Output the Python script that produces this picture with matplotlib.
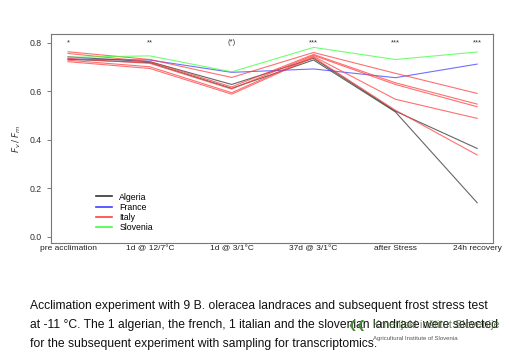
import matplotlib
matplotlib.use("Agg")
import matplotlib.pyplot as plt

plt.rcParams["font.family"] = ["Liberation Sans", "DejaVu Sans"]

# %% data
stages = ["pre acclimation", "1d @ 12/7°C", "1d @ 3/1°C", "37d @ 3/1°C", "after Stress", "24h recovery"]
signif = ["*", "**", "(*)", "***", "***", "***"]

algeria_1 = [0.742, 0.722, 0.628, 0.736, 0.518, 0.364]
algeria_2 = [0.732, 0.718, 0.612, 0.729, 0.515, 0.140]
france = [0.733, 0.729, 0.678, 0.692, 0.656, 0.712]
italy_1 = [0.763, 0.731, 0.657, 0.760, 0.674, 0.591]
italy_2 = [0.756, 0.722, 0.618, 0.752, 0.635, 0.547]
italy_3 = [0.735, 0.715, 0.609, 0.748, 0.628, 0.536]
italy_4 = [0.728, 0.701, 0.594, 0.744, 0.567, 0.488]
italy_5 = [0.722, 0.694, 0.588, 0.740, 0.522, 0.337]
slovenia = [0.740, 0.746, 0.680, 0.781, 0.731, 0.762]

groups = [
    ("Algeria", "#333333", [algeria_1, algeria_2]),
    ("France", "#4040ff", [france]),
    ("Italy", "#ff4040", [italy_1, italy_2, italy_3, italy_4, italy_5]),
    ("Slovenia", "#40ff40", [slovenia]),
]

# %% plot
fig = plt.figure(figsize=(5.09, 3.63), dpi=100)
ax = fig.add_axes([0.1002, 0.3314, 0.8678, 0.5741])
x = list(range(len(stages)))

for name, color, series in groups:
    for i, s in enumerate(series):
        ax.plot(x, s, color=color, lw=0.8, alpha=0.75,
                label=name if i == 0 else None)

for xi, lab in zip(x, signif):
    ax.text(xi, 0.8, lab, ha="center", va="center", fontsize=5.5, color="#333333")

ax.set_xlim(-0.208, 5.19)
ax.set_ylim(-0.025, 0.835)
ax.set_xticks(x)
ax.set_xticklabels(stages, fontsize=6.0, color="#222222")
ax.tick_params(axis="x", length=0, pad=2)
ax.set_yticks([0.0, 0.2, 0.4, 0.6, 0.8])
ax.set_yticklabels(["0.0", "0.2", "0.4", "0.6", "0.8"], fontsize=6.3, color="#333333")
ax.tick_params(axis="y", length=3, color="#666666", width=0.6)
for sp in ax.spines.values():
    sp.set_color("#777777")
    sp.set_linewidth(0.8)
ax.set_ylabel("$F_v\\,/\\,F_m$", fontsize=6.5, color="#333333", labelpad=5)

leg = ax.legend(loc="lower left", bbox_to_anchor=(0.085, 0.015), frameon=False,
                fontsize=6.3, handlelength=1.8, labelspacing=0.12, handletextpad=0.8)
for h in leg.get_lines():
    h.set_linewidth(1.2)
    h.set_alpha(1)

caption = ("Acclimation experiment with 9 B. oleracea landraces and subsequent frost stress test\n"
           "at -11 °C. The 1 algerian, the french, 1 italian and the slovenian landrace were selected\n"
           "for the subsequent experiment with sampling for transcriptomics.")
fig.text(0.059, 0.105, caption, fontsize=8.7, color="#111111", va="center",
         linespacing=1.8)

# institute logo overlaid on the caption, as in the slide
fig.text(0.683, 0.104, "❮❮", fontsize=8, color="#4a8a3a", va="center",
         family=["DejaVu Sans"])
fig.text(0.733, 0.104, "Kmetijski inštitut Slovenije", fontsize=7.8, color="#4a6a3a",
         alpha=0.8, va="center")
fig.text(0.733, 0.068, "Agricultural Institute of Slovenia", fontsize=4.3,
         color="#555555", va="center")

fig.savefig("out.png", dpi=100)
